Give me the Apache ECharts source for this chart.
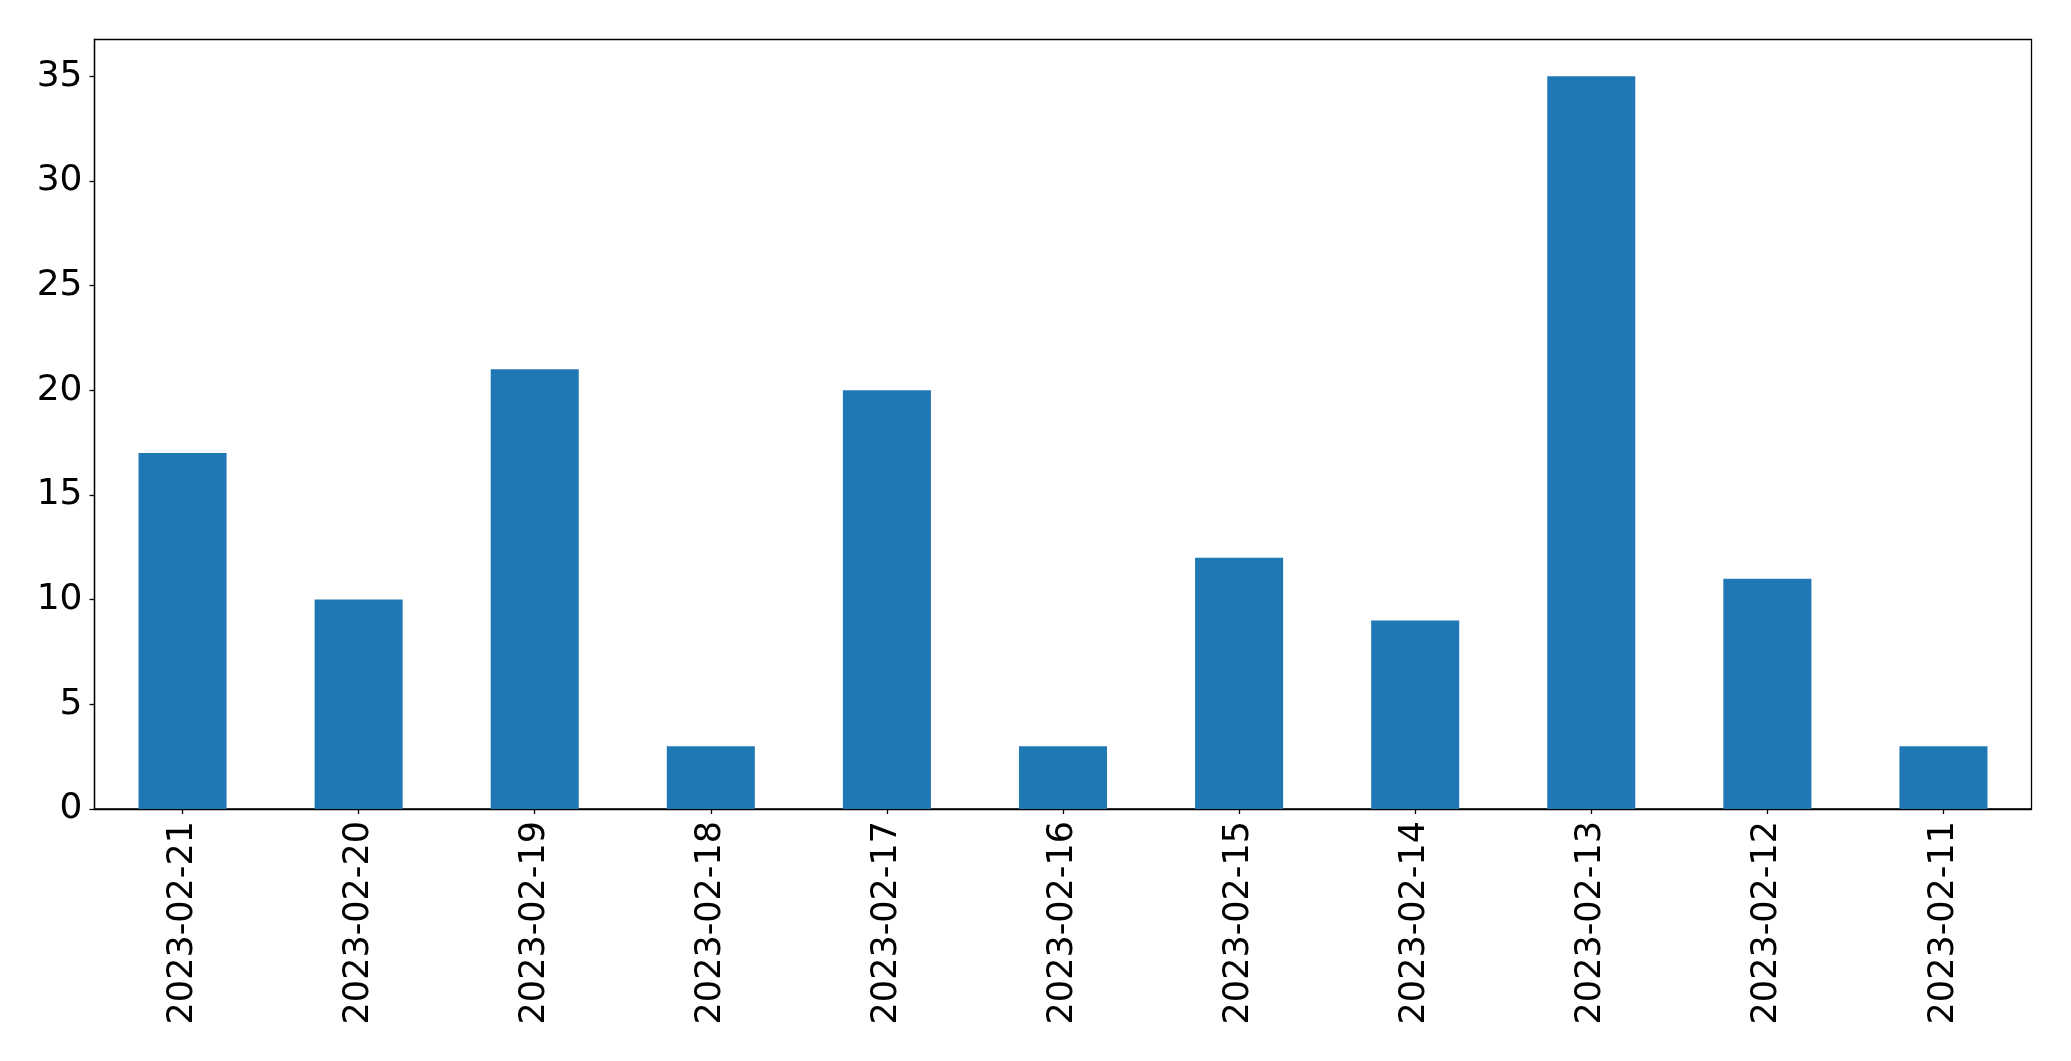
<!DOCTYPE html>
<html>
<head>
<meta charset="utf-8">
<script src="https://cdn.jsdelivr.net/npm/echarts@6/dist/echarts.min.js"></script>
<style>
html,body{margin:0;padding:0;background:#fff;}
#chart{width:2071px;height:1061px;}
</style>
</head>
<body>
<div id="chart"></div>
<script>
const categories = ["2023-02-21","2023-02-20","2023-02-19","2023-02-18","2023-02-17","2023-02-16","2023-02-15","2023-02-14","2023-02-13","2023-02-12","2023-02-11"];
const values = [17, 10, 21, 3, 20, 3, 12, 9, 35, 11, 3];
const yTicks = [0, 5, 10, 15, 20, 25, 30, 35];
const yMax = 36.75;

const chart = echarts.init(document.getElementById('chart'), null, {renderer: 'canvas'});
const font = 'DejaVu Sans';
chart.setOption({
  animation: false,
  backgroundColor: '#ffffff',
  grid: {
    left: 94.5, right: 39.5, top: 39.5, bottom: 252,
    show: true, borderColor: '#000', borderWidth: 1.3, backgroundColor: 'transparent'
  },
  xAxis: {
    type: 'category',
    data: categories,
    boundaryGap: true,
    axisLine: {show: true, lineStyle: {color: '#000', width: 1.3}},
    axisTick: {show: true, alignWithLabel: true, length: 5, lineStyle: {color: '#000', width: 1.3}},
    axisLabel: {rotate: 90, margin: 12, color: '#000', fontFamily: font, fontSize: 35, interval: 0}
  },
  yAxis: {
    type: 'value',
    min: 0,
    max: yMax,
    interval: 5,
    splitLine: {show: false},
    axisLine: {show: true, lineStyle: {color: '#000', width: 1.3}},
    axisTick: {show: true, length: 5, customValues: yTicks, lineStyle: {color: '#000', width: 1.3}},
    axisLabel: {margin: 12, color: '#000', fontFamily: font, fontSize: 36, customValues: yTicks}
  },
  series: [{
    type: 'bar',
    data: values,
    barWidth: '50%',
    itemStyle: {color: '#1f77b4'}
  }]
});
</script>
</body>
</html>
